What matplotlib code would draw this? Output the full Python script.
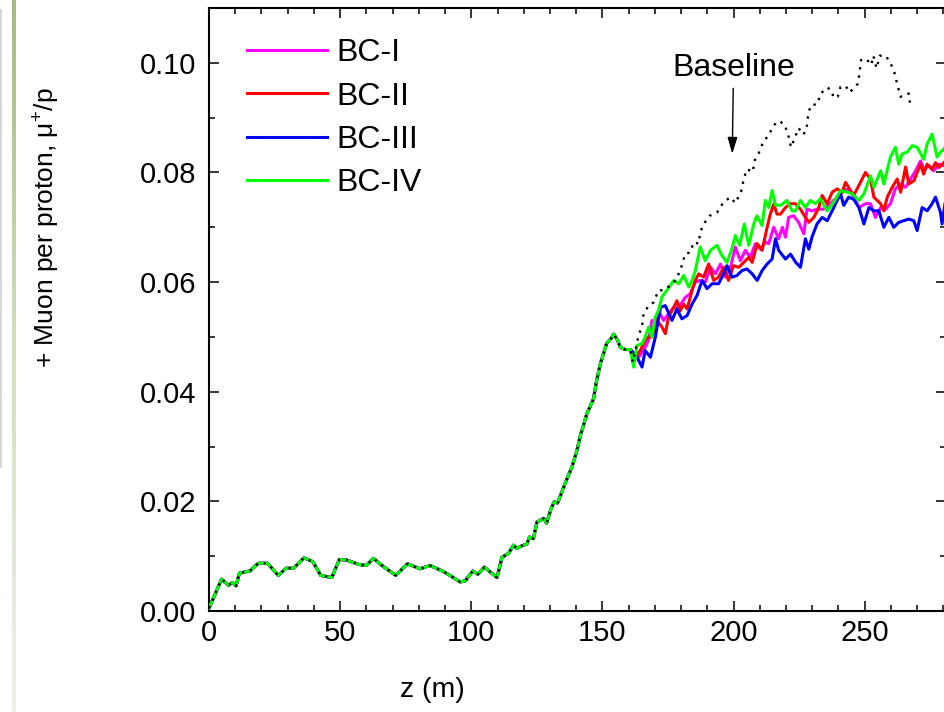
import numpy as np
import matplotlib
matplotlib.use("Agg")
import matplotlib.pyplot as plt
from matplotlib.ticker import MultipleLocator, FormatStrFormatter
from matplotlib.colors import LinearSegmentedColormap
from matplotlib.lines import Line2D

# dados: trecho comum (todas as curvas iguais) ate ~160 m
z_comum = [0.0, 4.8, 7.4, 9.0, 10.3, 11.6, 15.6, 18.8, 22.3, 26.4, 29.4, 32.2, 36.2, 39.6,
           42.6, 46.8, 49.7, 52.5, 57.0, 59.9, 62.7, 66.5, 71.2, 75.7, 80.5, 84.3, 89.4,
           95.8, 97.7, 100.6, 102.5, 105.0, 109.8, 111.7, 114.2, 116.1, 117.4, 119.3, 121.2,
           122.2, 123.7, 125.0, 127.6, 128.7, 130.3, 131.6, 132.9, 135.8, 138.4, 140.3,
           141.6, 144.1, 146.6, 147.7, 149.2, 151.7, 153.3, 154.3, 155.8, 156.8, 158.7, 160.6]
mu_comum = [0.0005, 0.0058, 0.0047, 0.0052, 0.0046, 0.0069, 0.0073, 0.0087, 0.0087, 0.0065,
            0.0078, 0.0078, 0.0097, 0.0090, 0.0065, 0.0061, 0.0094, 0.0093, 0.0085, 0.0083,
            0.0096, 0.0081, 0.0065, 0.0086, 0.0077, 0.0083, 0.0072, 0.0053, 0.0055, 0.0073,
            0.0067, 0.0080, 0.0061, 0.0098, 0.0105, 0.0120, 0.0114, 0.0119, 0.0122, 0.0135,
            0.0132, 0.0162, 0.0169, 0.0160, 0.0185, 0.0199, 0.0197, 0.0233, 0.0263, 0.0293,
            0.0320, 0.0360, 0.0387, 0.0418, 0.0451, 0.0489, 0.0497, 0.0505, 0.0494, 0.0481,
            0.0477, 0.0477]

# baseline (pontilhado) depois de 160 m
z_base = [161.6, 163.8, 165.1, 165.7, 167.6, 169.5, 171.4, 173.3, 175.9, 177.8, 179.7, 181.6,
          183.5, 184.8, 186.7, 187.3, 188.6, 190.9, 193.7, 196.2, 198.8, 200.7, 202.9, 203.9,
          205.1, 207.4, 207.9, 209.6, 211.5, 213.4, 215.1, 217.2, 219.4, 221.1, 221.9, 223.2,
          224.8, 226.5, 227.8, 228.3, 229.3, 232.1, 232.9, 235.5, 237.2, 238.2, 239.7, 240.8,
          242.7, 244.3, 245.8, 247.4, 248.1, 248.6, 250.7, 252.5, 253.3, 254.5, 255.8, 258.0,
          259.9, 261.4, 262.4, 263.7, 266.8, 267.4]
mu_base = [0.0454, 0.0503, 0.0519, 0.0542, 0.0557, 0.0563, 0.0585, 0.0585, 0.0594, 0.0603,
           0.0621, 0.0652, 0.0654, 0.0673, 0.0670, 0.0691, 0.0706, 0.0721, 0.0727, 0.0746,
           0.0755, 0.0744, 0.0766, 0.0788, 0.0806, 0.0801, 0.0821, 0.0835, 0.0858, 0.0867,
           0.0885, 0.0894, 0.0888, 0.0864, 0.0846, 0.0861, 0.0881, 0.0869, 0.0877, 0.0900,
           0.0922, 0.0925, 0.0942, 0.0955, 0.0951, 0.0936, 0.0938, 0.0956, 0.0958, 0.0946,
           0.0954, 0.0962, 0.0984, 0.1005, 0.1007, 0.0996, 0.1013, 0.0990, 0.1013, 0.1013,
           0.0999, 0.0981, 0.0961, 0.0938, 0.0944, 0.0922]

# BC-I (magenta)
z_bc1 = [163.8, 165.7, 167.6, 168.9, 170.2, 171.4, 173.3, 175.2, 177.2, 179.1, 181.6, 183.5,
         185.4, 187.3, 189.2, 191.2, 193.1, 195.0, 196.9, 198.8, 200.7, 202.6, 204.5, 206.4,
         208.3, 210.2, 212.1, 213.4, 215.3, 217.2, 218.6, 219.8, 221.0, 222.9, 224.8, 226.8,
         228.0, 229.9, 231.8, 234.4, 236.9, 239.5, 242.0, 243.9, 245.8, 247.8, 250.3, 252.2,
         254.1, 256.1, 258.0, 259.8, 261.7, 263.7, 265.6, 267.5, 269.4, 271.3, 272.5, 274.4,
         276.3, 278.3, 280.2]
mu_bc1 = [0.0463, 0.0475, 0.0494, 0.0530, 0.0524, 0.0548, 0.0530, 0.0542, 0.0554, 0.0554,
          0.0572, 0.0579, 0.0600, 0.0603, 0.0600, 0.0627, 0.0615, 0.0633, 0.0609, 0.0627,
          0.0664, 0.0639, 0.0658, 0.0645, 0.0670, 0.0660, 0.0673, 0.0670, 0.0700, 0.0679,
          0.0700, 0.0682, 0.0718, 0.0721, 0.0709, 0.0688, 0.0733, 0.0730, 0.0733, 0.0733,
          0.0743, 0.0755, 0.0767, 0.0770, 0.0755, 0.0736, 0.0743, 0.0743, 0.0718, 0.0736,
          0.0733, 0.0743, 0.0770, 0.0779, 0.0773, 0.0788, 0.0803, 0.0821, 0.0806, 0.0812,
          0.0803, 0.0815, 0.0812]

# BC-II (vermelho)
z_bc2 = [162.5, 164.4, 166.3, 167.6, 168.9, 170.8, 172.7, 174.0, 175.2, 177.2, 178.4, 179.7,
         181.0, 182.3, 184.2, 185.4, 186.7, 188.6, 190.5, 192.4, 194.3, 196.2, 198.1, 200.0,
         202.0, 203.9, 205.8, 207.1, 209.0, 210.9, 212.8, 214.0, 215.3, 216.6, 217.9, 219.8,
         221.7, 223.6, 225.5, 227.4, 228.7, 230.6, 232.5, 233.8, 235.7, 237.6, 239.5, 241.4,
         242.7, 244.6, 245.8, 248.4, 250.3, 252.2, 253.5, 256.1, 257.3, 258.6, 260.5, 262.4,
         263.7, 265.6, 266.8, 268.8, 270.0, 271.3, 272.5, 273.8, 275.7, 277.0, 278.3, 280.2]
mu_bc2 = [0.0463, 0.0475, 0.0494, 0.0500, 0.0500, 0.0530, 0.0518, 0.0506, 0.0536, 0.0554,
          0.0566, 0.0548, 0.0560, 0.0551, 0.0585, 0.0603, 0.0615, 0.0609, 0.0633, 0.0603,
          0.0609, 0.0627, 0.0603, 0.0630, 0.0627, 0.0636, 0.0645, 0.0636, 0.0670, 0.0658,
          0.0700, 0.0724, 0.0742, 0.0724, 0.0724, 0.0736, 0.0743, 0.0743, 0.0733, 0.0718,
          0.0709, 0.0718, 0.0736, 0.0758, 0.0743, 0.0764, 0.0770, 0.0764, 0.0782, 0.0767,
          0.0758, 0.0782, 0.0800, 0.0788, 0.0755, 0.0743, 0.0730, 0.0755, 0.0773, 0.0788,
          0.0764, 0.0810, 0.0779, 0.0785, 0.0800, 0.0815, 0.0797, 0.0815, 0.0806, 0.0818,
          0.0809, 0.0818]

# BC-III (azul)
z_bc3 = [163.2, 165.1, 166.3, 168.3, 170.2, 172.1, 174.0, 176.5, 178.4, 180.3, 182.3, 184.2,
         186.1, 188.0, 189.9, 191.8, 194.3, 196.2, 197.5, 199.4, 201.3, 203.2, 205.1, 207.1,
         209.0, 210.9, 212.8, 214.7, 216.0, 217.2, 219.8, 221.7, 223.7, 225.5, 227.4, 228.7,
         229.9, 231.8, 233.8, 235.7, 237.6, 239.5, 240.8, 242.0, 243.9, 245.8, 247.8, 249.7,
         251.6, 253.5, 255.4, 257.3, 259.2, 261.1, 263.0, 264.9, 266.8, 268.7, 270.0, 271.9,
         273.8, 275.7, 277.0, 278.9, 279.5, 280.8]
mu_bc3 = [0.0463, 0.0445, 0.0475, 0.0463, 0.0500, 0.0554, 0.0557, 0.0530, 0.0551, 0.0533,
          0.0539, 0.0560, 0.0576, 0.0603, 0.0588, 0.0597, 0.0597, 0.0615, 0.0630, 0.0609,
          0.0612, 0.0621, 0.0624, 0.0615, 0.0603, 0.0621, 0.0633, 0.0642, 0.0679, 0.0658,
          0.0642, 0.0651, 0.0636, 0.0627, 0.0679, 0.0660, 0.0682, 0.0706, 0.0718, 0.0712,
          0.0730, 0.0749, 0.0761, 0.0740, 0.0755, 0.0751, 0.0736, 0.0706, 0.0736, 0.0730,
          0.0730, 0.0700, 0.0718, 0.0700, 0.0709, 0.0712, 0.0715, 0.0712, 0.0694, 0.0736,
          0.0730, 0.0743, 0.0755, 0.0727, 0.0706, 0.0749]

# BC-IV (verde)
z_bc4 = [161.9, 163.2, 165.1, 166.3, 167.6, 168.9, 170.1, 171.4, 172.7, 174.6, 177.2, 179.1,
         181.0, 182.9, 184.2, 185.4, 187.3, 189.2, 191.2, 193.7, 195.6, 197.5, 199.4, 200.7,
         202.3, 204.1, 205.8, 207.7, 208.9, 210.9, 212.1, 213.4, 214.7, 216.0, 217.9, 220.4,
         222.3, 223.6, 225.5, 227.4, 229.3, 231.2, 233.1, 235.7, 238.2, 240.8, 243.3, 245.2,
         247.8, 249.7, 252.2, 253.5, 256.1, 257.3, 259.8, 261.7, 263.0, 264.3, 266.2, 268.1,
         270.0, 272.5, 273.8, 275.7, 277.6, 278.9, 280.8]
mu_bc4 = [0.0445, 0.0484, 0.0488, 0.0500, 0.0518, 0.0500, 0.0536, 0.0548, 0.0573, 0.0585,
          0.0603, 0.0597, 0.0612, 0.0591, 0.0603, 0.0621, 0.0664, 0.0639, 0.0658, 0.0667,
          0.0648, 0.0636, 0.0661, 0.0685, 0.0667, 0.0706, 0.0667, 0.0706, 0.0721, 0.0703,
          0.0749, 0.0736, 0.0767, 0.0740, 0.0740, 0.0749, 0.0730, 0.0730, 0.0749, 0.0736,
          0.0749, 0.0743, 0.0752, 0.0730, 0.0746, 0.0767, 0.0764, 0.0761, 0.0749, 0.0761,
          0.0794, 0.0773, 0.0803, 0.0779, 0.0828, 0.0846, 0.0815, 0.0834, 0.0837, 0.0849,
          0.0846, 0.0824, 0.0852, 0.0870, 0.0828, 0.0837, 0.0846]

nomes = ['BC-I', 'BC-II', 'BC-III', 'BC-IV']
cores = ['#ff00ff', '#ff0000', '#0000ff', '#00ff00']

plt.rcParams['font.family'] = ['Liberation Sans', 'DejaVu Sans']
plt.rcParams['mathtext.fontset'] = 'custom'
plt.rcParams['mathtext.rm'] = 'Liberation Sans'
plt.rcParams['mathtext.it'] = 'Liberation Sans'

fig = plt.figure(figsize=(9.45, 7.12), dpi=100)
ax = fig.add_axes([209 / 945, 101 / 712, 737 / 945, 603 / 712])

series_z = [z_bc1, z_bc2, z_bc3, z_bc4]
series_mu = [mu_bc1, mu_bc2, mu_bc3, mu_bc4]
for i in range(4):
    zz = z_comum + series_z[i]
    mm = mu_comum + series_mu[i]
    ax.plot(zz, mm, color=cores[i], lw=2.2, label=nomes[i], zorder=2 + i)

ax.plot(z_comum + z_base, mu_comum + mu_base, color='black', lw=1.7,
        dashes=(1, 2.5), zorder=10)

ax.set_xlim(0, 281)
ax.set_ylim(0, 0.11)
ax.xaxis.set_major_locator(MultipleLocator(50))
ax.xaxis.set_minor_locator(MultipleLocator(10))
ax.yaxis.set_major_locator(MultipleLocator(0.02))
ax.yaxis.set_minor_locator(MultipleLocator(0.01))
ax.yaxis.set_major_formatter(FormatStrFormatter('%.2f'))
ax.tick_params(which='both', direction='in', top=True, right=True, width=1.1)
ax.tick_params(which='major', length=7, labelsize=21)
ax.tick_params(axis='y', which='major', pad=9)
ax.tick_params(axis='x', which='major', pad=6)
ax.tick_params(which='minor', length=4)
for s in ax.spines.values():
    s.set_linewidth(1.5)

ax.annotate('Baseline', xy=(199.5, 0.0834), xytext=(200, 0.0991),
            ha='center', va='center', fontsize=23,
            arrowprops=dict(arrowstyle='-|>,head_length=0.5,head_width=0.15',
                            mutation_scale=20, color='black', lw=1.0,
                            shrinkA=2, shrinkB=0))

ax.legend(loc='upper left', bbox_to_anchor=(0.052, 0.95), frameon=False,
          fontsize=23, handlelength=2.5, handletextpad=0.3, labelspacing=0.42,
          borderpad=0, borderaxespad=0)

fig.text(47 / 945, 1 - 228 / 712, '+ Muon per proton, $\\mathregular{\\mu^{+}}$/p',
         rotation=90, ha='center', va='center', fontsize=19)
fig.text(432 / 945, 1 - 690 / 712, 'z (m)', ha='center', va='center', fontsize=20.5)

# faixa verde da borda do slide
faixa = fig.add_axes([12 / 945, 0, 4 / 945, 1])
cmap = LinearSegmentedColormap.from_list('faixa', ['#a6bb7f', '#d4dfc0', '#eef1e6'])
faixa.imshow(np.linspace(0, 1, 200).reshape(-1, 1), aspect='auto', cmap=cmap)
faixa.axis('off')
fig.add_artist(Line2D([1 / 945, 1 / 945], [1 - 10 / 712, 1 - 467 / 712],
                      color='#d0d0d0', lw=1.2))

fig.savefig('out.png', dpi=100)
